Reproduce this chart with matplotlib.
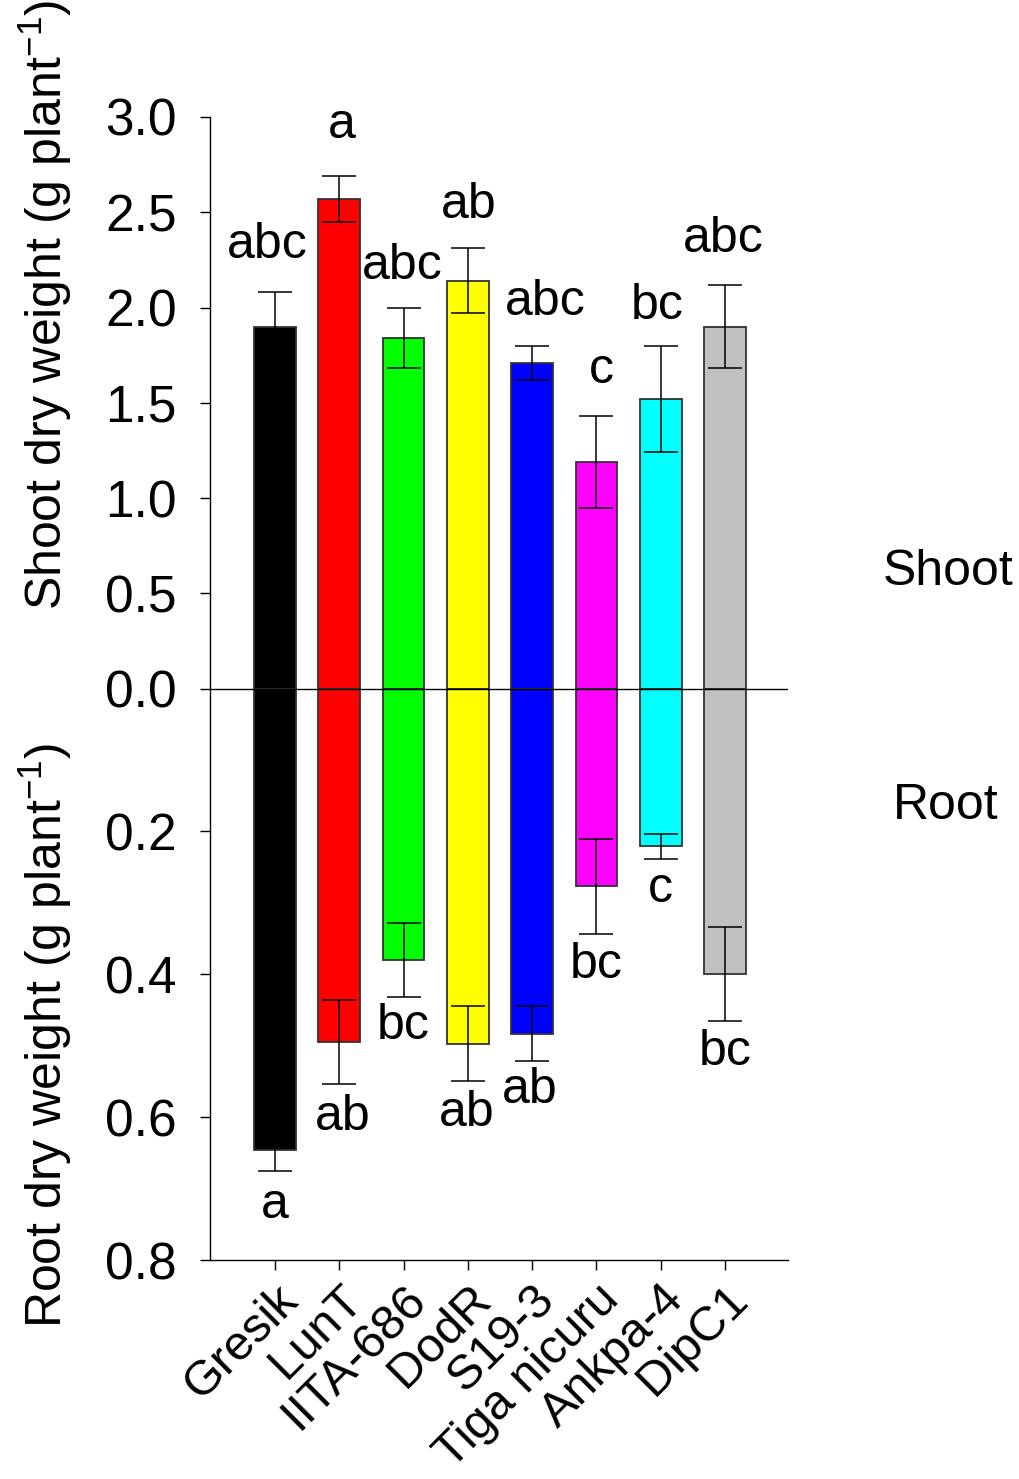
import numpy as np
import matplotlib
matplotlib.use("Agg")
import matplotlib.pyplot as plt
import matplotlib.transforms as mtransforms

plt.rcParams["font.family"] = ["Liberation Sans", "DejaVu Sans"]
plt.rcParams["mathtext.fontset"] = "custom"
plt.rcParams["mathtext.rm"] = "Liberation Sans"
plt.rcParams["mathtext.it"] = "Liberation Sans"

# Data
cultivars = ["Gresik", "LunT", "IITA-686", "DodR", "S19-3", "Tiga nicuru", "Ankpa-4", "DipC1"]
shoot_mean = [1.90, 2.57, 1.84, 2.14, 1.71, 1.19, 1.52, 1.90]
shoot_err = [0.18, 0.12, 0.16, 0.17, 0.09, 0.24, 0.28, 0.22]
root_mean = [0.646, 0.495, 0.380, 0.497, 0.483, 0.277, 0.221, 0.400]
root_err = [0.030, 0.059, 0.052, 0.053, 0.038, 0.066, 0.017, 0.066]
shoot_letters = ["abc", "a", "abc", "ab", "abc", "c", "bc", "abc"]
root_letters = ["a", "ab", "bc", "ab", "ab", "bc", "c", "bc"]
colors = ["#000000", "#ff0000", "#00ff00", "#ffff00", "#0000ff", "#ff00ff", "#00ffff", "#c0c0c0"]

# root axis is drawn on the shoot scale: 0.8 root == 3.0 shoot
root_scale = 3.0 / 0.8

# letter positions (layout only)
shoot_lab_dx = [-0.12, 0.04, -0.02, 0.02, 0.20, 0.07, -0.06, -0.03]
shoot_lab_y = [2.33, 2.96, 2.22, 2.54, 2.03, 1.67, 2.01, 2.36]
root_lab_dx = [0.0, 0.06, 0.0, -0.01, -0.03, -0.01, -0.01, 0.01]
root_lab_y = [-2.71, -2.25, -1.77, -2.23, -2.11, -1.45, -1.05, -1.91]

FS = 36

fig = plt.figure(figsize=(10.2, 14.79), dpi=100)
ax = fig.add_axes([210 / 1020, 1 - 1260 / 1479, (788 - 210) / 1020, (1260 - 117) / 1479])

x = np.arange(len(cultivars))
root_plot = -np.array(root_mean) * root_scale
root_err_plot = np.array(root_err) * root_scale

ax.bar(x, shoot_mean, width=0.65, color=colors, edgecolor="#333333", linewidth=1.3, zorder=2)
ax.bar(x, root_plot, width=0.65, color=colors, edgecolor="#333333", linewidth=1.3, zorder=2)
ax.errorbar(x, shoot_mean, yerr=shoot_err, fmt="none", ecolor="black", elinewidth=1.1,
            capsize=12, capthick=1.1, zorder=3)
ax.errorbar(x, root_plot, yerr=root_err_plot, fmt="none", ecolor="black", elinewidth=1.1,
            capsize=12, capthick=1.1, zorder=3)
ax.axhline(0, color="black", linewidth=1.0, zorder=4)

for i in range(len(cultivars)):
    ax.text(x[i] + shoot_lab_dx[i], shoot_lab_y[i], shoot_letters[i], ha="center", va="center",
            fontsize=FS)
    ax.text(x[i] + root_lab_dx[i], root_lab_y[i], root_letters[i], ha="center", va="center",
            fontsize=FS)

ax.set_xlim(-1.01, 7.98)
ax.set_ylim(-3.0, 3.0)

yticks = [3.0, 2.5, 2.0, 1.5, 1.0, 0.5, 0.0, -0.2 * root_scale, -0.4 * root_scale,
          -0.6 * root_scale, -0.8 * root_scale]
ylabels = ["3.0", "2.5", "2.0", "1.5", "1.0", "0.5", "0.0", "0.2", "0.4", "0.6", "0.8"]
ax.set_yticks(yticks)
ax.set_yticklabels(ylabels)
ax.set_xticks(x)
ax.set_xticklabels(cultivars, rotation=45, ha="right", va="top", rotation_mode="anchor")

offset = mtransforms.ScaledTranslation(0.14, 0.0, fig.dpi_scale_trans)
for lab in ax.get_xticklabels():
    lab.set_transform(lab.get_transform() + offset)

ax.tick_params(axis="y", direction="out", length=7, width=1, labelsize=37, pad=17)
ax.tick_params(axis="x", direction="out", length=7, width=1, labelsize=35, pad=5)

for s in ["top", "right"]:
    ax.spines[s].set_visible(False)
ax.spines["left"].set_linewidth(1)
ax.spines["bottom"].set_linewidth(1)

fig.text(45 / 1020, 1 - 305 / 1479, r"Shoot dry weight (g plant$^{-1}$)", rotation=90,
         ha="center", va="center", fontsize=FS)
fig.text(45 / 1020, 1 - 1035 / 1479, r"Root dry weight (g plant$^{-1}$)", rotation=90,
         ha="center", va="center", fontsize=FS)
fig.text(948 / 1020, 1 - 572 / 1479, "Shoot", ha="center", va="center", fontsize=FS)
fig.text(946 / 1020, 1 - 806 / 1479, "Root", ha="center", va="center", fontsize=FS)

fig.savefig("out.png", dpi=100)
